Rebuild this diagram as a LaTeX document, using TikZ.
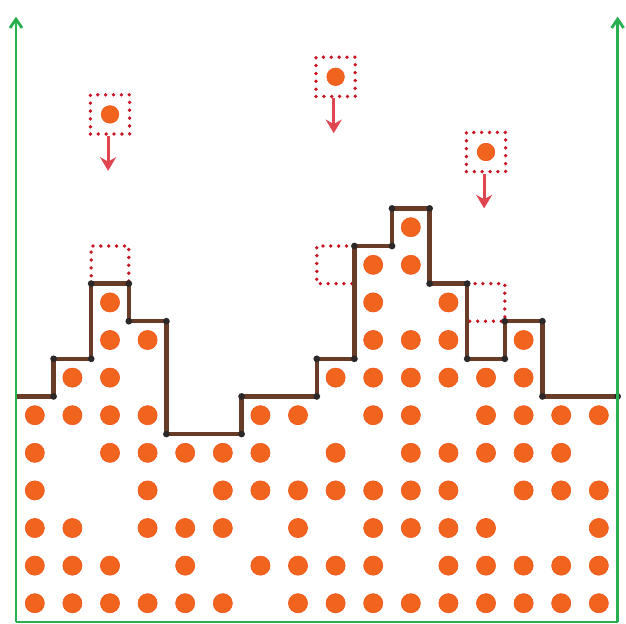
\documentclass[tikz,border=0pt]{standalone}
\usepackage{tikz}
\usetikzlibrary{arrows.meta}
\definecolor{axisclr}{RGB}{40,175,80}
\definecolor{grainclr}{RGB}{240,100,30}
\definecolor{wallclr}{RGB}{105,60,40}
\definecolor{cornerclr}{RGB}{45,40,40}
\definecolor{ghostclr}{RGB}{200,20,35}
\definecolor{dropclr}{RGB}{225,70,80}
\tikzset{
  axisline/.style={axisclr,line width=2pt,-{Straight Barb[length=2.2mm,width=3mm]}},
  grain/.style={circle,fill=grainclr,draw=grainclr!85!red,inner sep=0pt,minimum size=4.8mm},
  smallgrain/.style={grain,minimum size=4.4mm},
  wall/.style={wallclr,line width=3.2pt,line join=miter},
  ghost/.style={ghostclr,line width=2.7pt,dash pattern=on 0pt off 5.6pt,line cap=round},
  fallbox/.style={rectangle,draw=ghostclr,line width=2.7pt,dash pattern=on 0pt off 5.6pt,
                  line cap=round,minimum size=9.8mm,inner sep=0pt},
  drop/.style={dropclr,line width=2pt,-{Stealth[length=3.4mm,width=4mm]}},
}
\begin{document}
\begin{tikzpicture}[x=0.94cm, y=0.94cm]
\useasboundingbox[fill=white] (-0.4255,-0.0266) rectangle (16.223,16.543);

% grains below the surface
\foreach \j/\cols in {0/{0,1,2,3,4,5,7,8,9,10,11,12,13,14,15},
                      1/{0,1,2,4,6,7,8,9,11,12,13,14,15},
                      2/{0,1,3,4,5,7,9,10,11,12,15},
                      3/{0,3,5,6,7,8,9,10,11,13,14,15},
                      4/{0,2,3,4,5,6,8,10,11,12,13,14},
                      5/{0,1,2,3,6,7,9,10,12,13,14,15},
                      6/{1,2,8,9,10,11,12,13},
                      7/{2,3,9,10,11,13},
                      8/{2,9,11},
                      9/{9,10},
                      10/{10}} {
  \foreach \i in \cols {
    \node[grain] (g-\i-\j) at (\i+0.5,\j+0.5) {};
  }
}

% landing spots
\draw[ghost] (2,9) -- (2,10) -- (3,10) -- (3,9);
\draw[ghost] (9,10) -- (8,10) -- (8,9) -- (9,9);
\draw[ghost] (12,9) -- (13,9) -- (13,8) -- (12,8);

% surface
\draw[wall] (0,6) -| (1,7) -| (2,9) -| (3,8) -| (4,5) -| (6,6) -| (8,7) -| (9,10)
  -| (10,11) -| (11,9) -| (12,7) -| (13,8) -| (14,6) -- (16,6);
\foreach \x/\ya/\yb in {1/6/7,2/7/9,3/9/8,4/8/5,6/5/6,8/6/7,9/7/10,10/10/11,
                        11/11/9,12/9/7,13/7/8,14/8/6} {
  \fill[cornerclr] (\x,\ya) circle (2.4pt);
  \fill[cornerclr] (\x,\yb) circle (2.4pt);
}
\fill[cornerclr] (16,6) circle (2.4pt);

% falling grains
\foreach \n/\i/\j in {A/2/13,B/8/14,C/12/12} {
  \node[fallbox] (fall\n) at (\i+0.5,\j+0.5) {};
  \node[smallgrain] (fg\n) at (fall\n.center) {};
  \coordinate (land\n) at (\i+0.45,\j-1);
  \draw[drop] (fall\n.south -| land\n) -- (land\n);
}

% axes
\coordinate (origin) at (0,0);
\coordinate (xend) at (16,0);
\coordinate (ytop) at (0,16.1);
\coordinate (ytopR) at (16,16.1);
\draw[axisclr,line width=2pt] (origin) -- (xend);
\draw[axisline] (origin) -- (ytop);
\draw[axisline] (xend) -- (ytopR);
\end{tikzpicture}
\end{document}
